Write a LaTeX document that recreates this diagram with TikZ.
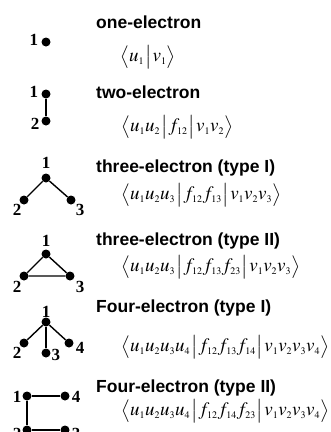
\documentclass[tikz,border=0pt]{standalone}
\usepackage{mathptmx}
\usepackage[no-math]{fontspec}
\setmainfont{Liberation Serif}
\newfontfamily\titlefont{Liberation Sans}
\DeclareMathSizes{19}{19}{10}{8}
\newcommand{\bra}{\bigl\langle}
\newcommand{\ket}{\bigr\rangle}
\newcommand{\mbar}{\mkern1mu\big|\mkern1mu}
\begin{document}
\begin{tikzpicture}[x=1pt,y=-1pt,
  dot/.style={circle,fill=black,inner sep=0pt,minimum size=9pt},
  lbl/.style={font=\fontsize{17}{17}\selectfont\bfseries,inner sep=0pt},
  ttl/.style={anchor=base west,inner sep=0pt,font=\titlefont\bfseries\fontsize{17.5}{18}\selectfont},
  frm/.style={anchor=west,inner sep=0pt,font=\fontsize{19}{20}\selectfont},
  bond/.style={line width=1.4pt}]
\path[use as bounding box] (0,0) rectangle (331,432);

% row 1
\node[dot] (a1) at (46,42) {};
\node[lbl] (la1) at (34,40) {1};
\node[ttl] (ta) at (96,28) {one-electron};
\node[frm] (fa) at (120,57) {$\bra u_1 \mbar v_1 \ket$};

% row 2
\node[dot] (b1) at (46,94) {};
\node[dot] (b2) at (46,121) {};
\draw[bond] (b1) -- (b2);
\node[lbl] (lb1) at (34,92) {1};
\node[lbl] (lb2) at (35,124) {2};
\node[ttl] (tb) at (96,98) {two-electron};
\node[frm] (fb) at (121,127) {$\bra u_1u_2 \mbar f_{12} \mbar v_1v_2 \ket$};

% row 3
\node[dot] (c1) at (46,178) {};
\node[dot] (c2) at (24,200) {};
\node[dot] (c3) at (71,200) {};
\draw[bond] (c2) -- (c1) -- (c3);
\node[lbl] (lc1) at (46,163) {1};
\node[lbl] (lc2) at (17,210) {2};
\node[lbl] (lc3) at (80,210) {3};
\node[ttl] (tc) at (96,172) {three-electron (type I)};
\node[frm] (fc) at (121,195) {$\bra u_1u_2u_3 \mbar f_{12}f_{13} \mbar v_1v_2v_3 \ket$};

% row 4
\node[dot] (d1) at (46,254) {};
\node[dot] (d2) at (24,276) {};
\node[dot] (d3) at (70,276) {};
\draw[bond] (d2) -- (d1) -- (d3) -- (d2);
\node[lbl] (ld1) at (46,241) {1};
\node[lbl] (ld2) at (17,287) {2};
\node[lbl] (ld3) at (80,287) {3};
\node[ttl] (td) at (96,245) {three-electron (type II)};
\node[frm] (fd) at (121,267) {$\bra u_1u_2u_3 \mbar f_{12}f_{13}f_{23} \mbar v_1v_2v_3 \ket$};

% row 5
\node[dot] (e1) at (46,322) {};
\node[dot] (e2) at (24,343) {};
\node[dot] (e3) at (46,353) {};
\node[dot] (e4) at (69,343) {};
\draw[bond] (e1) -- (e2);
\draw[bond] (e1) -- (e3);
\draw[bond] (e1) -- (e4);
\node[lbl] (le1) at (46,312) {1};
\node[lbl] (le2) at (17,353) {2};
\node[lbl] (le3) at (56,355) {3};
\node[lbl] (le4) at (80,348) {4};
\node[ttl] (te) at (96,312) {Four-electron (type I)};
\node[frm] (fe) at (121,347) {$\bra u_1u_2u_3u_4 \mbar f_{12}f_{13}f_{14} \mbar v_1v_2v_3v_4 \ket$};

% row 6
\node[dot] (f1) at (27,396) {};
\node[dot] (f4) at (65,396) {};
\node[dot] (f2) at (27,430) {};
\node[dot] (f3) at (65,430) {};
\draw[bond] (f4) -- (f1) -- (f2) -- (f3);
\node[lbl] (lf1) at (17,397) {1};
\node[lbl] (lf4) at (76,397) {4};
\node[lbl] (lf2) at (17,434) {2};
\node[lbl] (lf3) at (76,434) {3};
\node[ttl] (tf) at (96,392) {Four-electron (type II)};
\node[frm] (ff) at (121,411) {$\bra u_1u_2u_3u_4 \mbar f_{12}f_{14}f_{23} \mbar v_1v_2v_3v_4 \ket$};
\end{tikzpicture}
\end{document}
